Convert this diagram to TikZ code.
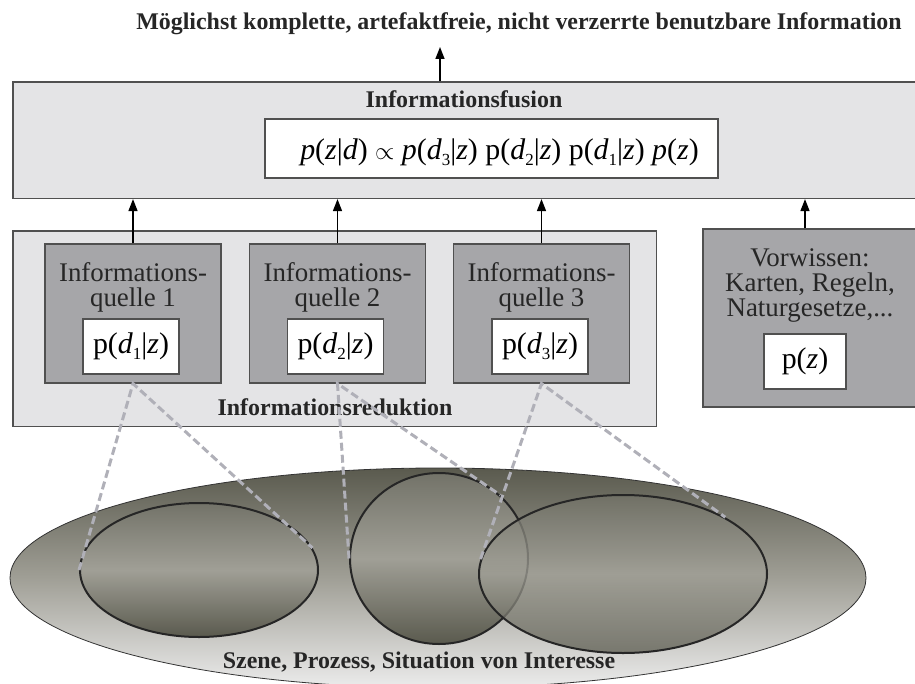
\documentclass[tikz,border=0pt]{standalone}
\usepackage{fontspec}
\setmainfont{Liberation Serif}
\usetikzlibrary{arrows.meta,shapes.geometric}

\definecolor{hellgrau}{RGB}{228,228,230}
\definecolor{mittelgrau}{RGB}{166,166,169}
\definecolor{randgrau}{RGB}{80,80,80}
\definecolor{strichgrau}{RGB}{176,176,184}
\definecolor{olivdunkel}{RGB}{90,90,78}
\definecolor{olivmitte}{RGB}{160,159,150}
\definecolor{olivhell}{RGB}{236,236,236}

\newcommand\tief[1]{\raisebox{-0.2em}{\fontsize{17}{17}\selectfont #1}}
\newcommand\pdz[1]{p(\textit{d}\tief{#1}|\textit{z})}

\tikzset{
  kasten/.style={draw=randgrau, line width=1.2bp, fill=#1, inner sep=0pt},
  weiss/.style={kasten=white, minimum height=55bp, font=\fontsize{30}{30}\selectfont},
  fett/.style={font=\fontsize{24}{26}\selectfont\bfseries, inner sep=0pt, text=black!85},
  normal/.style={font=\fontsize{27}{25.5}\selectfont, align=center, inner sep=0pt, text=black!85},
  pfeil/.style={-{Triangle[length=12bp,width=9bp]}, line width=1.5bp},
  blick/.style={draw=strichgrau, line width=3bp, dash pattern=on 8bp off 4bp},
  kreis/.style={ellipse, draw=black!85, line width=2bp, inner sep=0pt,
    top color=olivdunkel!85!white, bottom color=olivdunkel, middle color=olivmitte},
}

\begin{document}
\begin{tikzpicture}[x=1bp,y=-1bp]
  \useasboundingbox (0,0) rectangle (915,684);

  % Szene unten
  \node[ellipse, draw=black!80, line width=0.8bp, inner sep=0pt, minimum width=856bp,
    minimum height=220bp, top color=olivdunkel, bottom color=olivhell,
    middle color=olivmitte] (szene) at (438,578) {};
  \node[kreis, minimum width=238bp, minimum height=134bp] (e1) at (199,570) {};
  \node[kreis, minimum width=178bp, minimum height=171bp] (e2) at (439,558.5) {};
  \node[kreis, minimum width=288bp, minimum height=158bp, fill opacity=0.75] (e3) at (623,574) {};
  \node[fett, anchor=base] (szenetext) at (419,668) {Szene, Prozess, Situation von Interesse};

  % Fusion
  \node[kasten=hellgrau, minimum width=903bp, minimum height=116.5bp] (fusion) at (464.5,140.25) {};
  \node[fett, anchor=base] (fusiontext) at (464,108) {Informationsfusion};
  \node[kasten=white, minimum width=453bp, minimum height=59bp] (formel) at (491.5,148.5) {};
  \node[anchor=base, inner sep=0pt, font=\fontsize{30}{30}\selectfont] (formeltext) at (499.5,160)
    {\textit{p}(\textit{z}|\textit{d}) $\propto$ \textit{p}(\textit{d}\tief{3}|\textit{z})
     \pdz{2} \pdz{1} \textit{p}(\textit{z})};
  \node[fett, anchor=base] (ziel) at (519,30)
    {Möglichst komplette, artefaktfreie, nicht verzerrte benutzbare Information};
  \coordinate (aus) at (440,47);
  \draw[pfeil] (fusion.north -| aus) -- (aus);

  % Reduktion
  \node[kasten=hellgrau, minimum width=643.5bp, minimum height=195.5bp] (reduktion) at (334.75,328.75) {};
  \node[fett, anchor=base] (reduktiontext) at (335,415) {Informationsreduktion};
  \foreach \x/\px/\n in {133/131/1, 337.5/335.5/2, 541.5/540/3} {
    \node[kasten=mittelgrau, minimum width=176bp, minimum height=139bp] (q\n) at (\x,313.5) {};
    \node[normal, anchor=north] (qt\n) at (\x,262) {Informations-\\quelle \n};
    \node[weiss, minimum width=96bp] (p\n) at (\px,346.5) {\pdz{\n}};
    \draw[pfeil] (q\n.north) -- (q\n.north |- fusion.south);
  }

  % Vorwissen
  \node[kasten=mittelgrau, minimum width=214bp, minimum height=178bp] (vorwissen) at (810,318) {};
  \node[normal, anchor=north] (vt) at (810,248) {Vorwissen:\\Karten, Regeln,\\Naturgesetze,...};
  \node[weiss, minimum width=82bp] (pz) at (805,361.5) {p(\textit{z})};
  \draw[pfeil] (vorwissen.north -| pz) -- (fusion.south -| pz);

  \foreach \n/\a/\b in {1/180/11, 2/180/46, 3/174/29}
    \draw[blick] (e\n.\a) -- (q\n.south) -- (e\n.\b);
\end{tikzpicture}
\end{document}
